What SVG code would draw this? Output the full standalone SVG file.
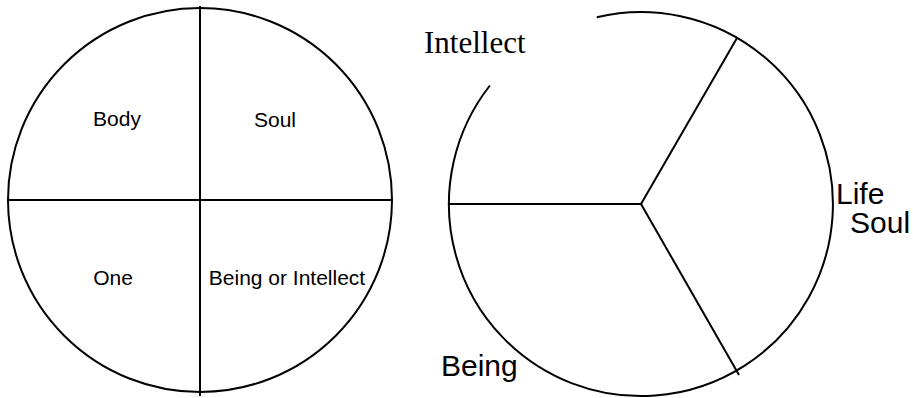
<svg xmlns="http://www.w3.org/2000/svg" width="913" height="398" viewBox="0 0 913 398">
<style>
.ln{fill:none;stroke:#000;stroke-width:2}
.s{font-family:"Liberation Sans",Arial,sans-serif;fill:#000}
.sm{font-size:21px;text-anchor:middle}
.lg{font-size:30px}
.serif{font-family:"Liberation Serif","Times New Roman",serif;font-size:31px;fill:#000}
</style>
<rect width="913" height="398" fill="#fff"/>
<g id="left-circle">
<circle class="ln" cx="200" cy="200" r="192"/>
</g>
<g id="right-circle">
<path class="ln" d="M596.8 17.2 A192 192 0 1 1 489.9 85.5"/>
</g>
<g id="connectors">
<line class="ln" x1="200" y1="6" x2="200" y2="396"/>
<line class="ln" x1="7" y1="200" x2="392" y2="200"/>
<line class="ln" x1="641" y1="204" x2="449" y2="204"/>
<line class="ln" x1="641" y1="204" x2="737" y2="38"/>
<line class="ln" x1="641" y1="204" x2="739" y2="375"/>
</g>
<g id="body"><text class="s sm" x="117" y="126">Body</text></g>
<g id="soul-left"><text class="s sm" x="275" y="127">Soul</text></g>
<g id="one"><text class="s sm" x="113" y="285">One</text></g>
<g id="being-or-intellect"><text class="s sm" x="287" y="285">Being or Intellect</text></g>
<g id="intellect"><text class="serif" x="424" y="53">Intellect</text></g>
<g id="life"><text class="s lg" x="836" y="204">Life</text></g>
<g id="soul-right"><text class="s lg" x="850" y="233">Soul</text></g>
<g id="being"><text class="s lg" x="441" y="376">Being</text></g>
</svg>
